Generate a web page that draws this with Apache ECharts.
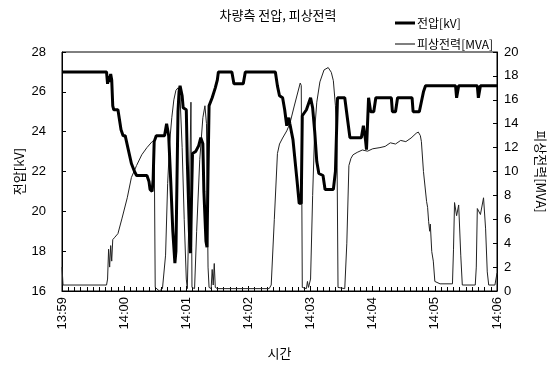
<!DOCTYPE html>
<html>
<head>
<meta charset="utf-8">
<script src="https://cdn.jsdelivr.net/npm/echarts@6/dist/echarts.min.js"></script>
<style>html,body{margin:0;padding:0;background:#fff}#c{width:556px;height:366px}</style>
</head>
<body>
<div id="c"></div>
<script>
var chartTitle = '차량측 전압, 피상전력';
var seriesNames = ['전압[kV]', '피상전력[MVA]'];
var xLabels = ['13:59','14:00','14:01','14:02','14:03','14:04','14:05','14:06'];
var xName = '시간';

// voltage (seconds after 13:59:00, kV)
var vTimes = [0,43,44,45,46,47,48,49,50,54,57,59,61,64,67,70,72,82,84,85,87,88,89,91,99,101,103,105,107,109,110,111,112,113,114,116,117,120,121,123,124,125,126,129,132,134,136,137,139,140,141,142,145,148,150,151,164,166,175,177,206,208,210,213,215,217,219,220,223,227,229,231,232,236,240,242,244,246,248,252,254,262,264,266,273,276,278,289,291,293,294,296,298,301,303,318,319,322,324,338,339,345,347,349,351,380,381,383,401,402,404,420];
var vValues = [27.0,27.0,26.4,26.8,26.5,26.9,26.6,25.3,25.1,25.1,24.1,23.8,23.8,23.1,22.4,22.0,21.8,21.8,21.5,21.1,21.0,21.6,23.5,23.8,23.8,24.4,23.8,21.5,19.0,17.4,18.0,21.5,25.0,26.0,26.3,25.8,25.2,25.1,22.5,19.0,17.9,20.5,22.9,23.0,23.3,23.7,23.4,21.0,18.5,18.2,22.0,25.3,25.7,26.2,26.6,27.0,27.0,26.4,26.4,27.0,27.0,26.3,25.8,25.7,25.1,24.3,24.7,24.4,23.6,21.5,20.4,20.4,24.8,25.1,25.7,25.2,24.0,22.5,21.9,21.8,21.1,21.1,22.0,25.7,25.7,24.5,23.7,23.7,24.3,23.6,23.1,25.7,25.0,25.0,25.7,25.7,25.0,25.0,25.7,25.7,25.0,25.0,25.5,26.0,26.3,26.3,25.7,26.3,26.3,25.7,26.3,26.3];

// apparent power (seconds after 13:59:00, MVA)
var pTimes = [0,1,43,44,45,46,47,48,49,51,54,58,63,67,72,77,82,87,89,90,94,97,100,102,104,106,108,110,112,114,116,118,120,121,122,123,124.5,125.5,128,130,133,136,138,139.5,141,142,144,145,146,147,148,150,200,202,205,208,210,213,217,220,224,227,230,231,232,236,237,238,240,242,244,246,249,253,257,260,262,264,265.5,266.5,273,275,277,279,281,285,290,295,300,307,312,317,322,327,332,337,342,344,346,347,349,352,353,354,355,355.6,357,358.5,360,365,377,378,379,381,383,385,386.5,399,400,401,404,407,409,410.6,412,418,420];
var pValues = [2.0,0.5,0.5,1.0,3.5,2.0,3.8,2.5,4.3,4.5,4.8,6.1,7.8,9.5,10.5,11.4,12.0,12.5,12.6,0.3,0.0,0.2,3.0,9.0,12.5,14.5,16.0,16.8,17.0,16.2,12.0,6.0,1.0,0.2,0.3,8.0,15.8,0.3,0.2,5.0,11.0,14.5,15.5,14.0,2.0,0.3,0.2,1.8,0.5,2.3,0.3,0.2,0.2,0.5,6.0,11.5,12.3,12.8,13.4,14.0,15.4,16.4,17.4,17.2,0.3,0.2,0.8,0.3,1.0,8.0,13.5,15.8,17.5,18.5,18.7,18.3,17.6,15.5,12.0,0.3,0.2,4.0,10.5,11.1,11.4,11.6,11.8,11.7,11.9,12.0,12.1,12.4,12.3,12.6,12.5,12.8,13.2,13.3,13.0,12.5,10.0,7.5,7.0,5.8,5.0,5.6,3.3,2.5,0.8,0.6,0.6,3.5,7.4,6.3,7.2,3.0,0.5,0.5,2.0,6.9,6.4,7.8,5.2,1.6,0.5,0.5,1.5];

function pairs(t, v) { return t.map(function (x, i) { return [x, v[i]]; }); }

var font = "'Liberation Sans', 'Noto Sans CJK KR', sans-serif";
var kfont = "'Noto Sans CJK KR', sans-serif";
// legend icons: a bar inside a 20x14 box (tiny corner dots keep the box size)
var dots = 'M0,0 L0.05,0 L0.05,0.05 Z M20,14 L19.95,14 L19.95,13.95 Z ';
var thickIcon = 'path://' + dots + 'M0,5.5 L20,5.5 L20,8.5 L0,8.5 Z';
var thinIcon = 'path://' + dots + 'M0,6.5 L20,6.5 L20,7.5 L0,7.5 Z';

var chart = echarts.init(document.getElementById('c'), null, { renderer: 'canvas' });
chart.setOption({
  animation: false,
  backgroundColor: '#fff',
  textStyle: { fontFamily: font, color: '#000' },
  title: {
    text: chartTitle, left: 'center', top: 4,
    textStyle: { fontFamily: kfont, fontSize: 13, fontWeight: 'normal', color: '#000' }
  },
  legend: {
    orient: 'vertical', left: 390, top: 11, itemGap: 7, itemWidth: 20, itemHeight: 14,
    textStyle: { fontFamily: kfont, fontSize: 12, color: '#000', padding: [0, 0, 0, -3] },
    data: [
      { name: seriesNames[0], icon: thickIcon, itemStyle: { color: '#000' } },
      { name: seriesNames[1], icon: thinIcon, itemStyle: { color: '#000' } }
    ]
  },
  grid: { left: 62, right: 59, top: 52, bottom: 75, show: true, borderColor: '#000', borderWidth: 1, containLabel: false },
  xAxis: {
    type: 'value', min: 0, max: 420, interval: 60,
    name: xName, nameLocation: 'middle', nameGap: 56,
    nameTextStyle: { fontFamily: kfont, fontSize: 13, color: '#000' },
    axisLine: { lineStyle: { color: '#000', width: 1 } },
    axisTick: { inside: true, length: 5, lineStyle: { color: '#000' } },
    minorTick: { show: true, splitNumber: 10, length: 4, lineStyle: { color: '#000' } },
    splitLine: { show: false },
    axisLabel: {
      rotate: 90, fontSize: 13, color: '#000', fontFamily: font, margin: 6,
      formatter: function (v) { return xLabels[Math.round(v / 60)]; }
    }
  },
  yAxis: [
    {
      type: 'value', min: 16, max: 28, interval: 2, position: 'left',
      name: seriesNames[0], nameLocation: 'middle', nameGap: 36, nameMoveOverlap: false,
      nameTextStyle: { fontFamily: kfont, fontSize: 13, color: '#000' },
      axisLine: { show: true, lineStyle: { color: '#000' } },
      axisTick: { inside: true, length: 4, lineStyle: { color: '#000' } },
      splitLine: { show: false },
      axisLabel: { fontSize: 13, color: '#000', fontFamily: font, margin: 16 }
    },
    {
      type: 'value', min: 0, max: 20, interval: 2, position: 'right',
      name: seriesNames[1], nameLocation: 'middle', nameGap: 37, nameRotate: -90,
      nameTextStyle: { fontFamily: kfont, fontSize: 13, color: '#000' },
      axisLine: { show: true, lineStyle: { color: '#000' } },
      axisTick: { inside: true, length: 4, lineStyle: { color: '#000' } },
      splitLine: { show: false },
      axisLabel: { fontSize: 13, color: '#000', fontFamily: font, margin: 7 }
    }
  ],
  series: [
    {
      name: seriesNames[0], type: 'line', yAxisIndex: 0, showSymbol: false, symbol: 'none',
      lineStyle: { color: '#000', width: 3 }, itemStyle: { color: '#000' },
      data: pairs(vTimes, vValues), z: 3
    },
    {
      name: seriesNames[1], type: 'line', yAxisIndex: 1, showSymbol: false, symbol: 'none',
      lineStyle: { color: '#222', width: 1 }, itemStyle: { color: '#222' },
      data: pairs(pTimes, pValues), z: 2
    }
  ]
});
</script>
</body>
</html>
